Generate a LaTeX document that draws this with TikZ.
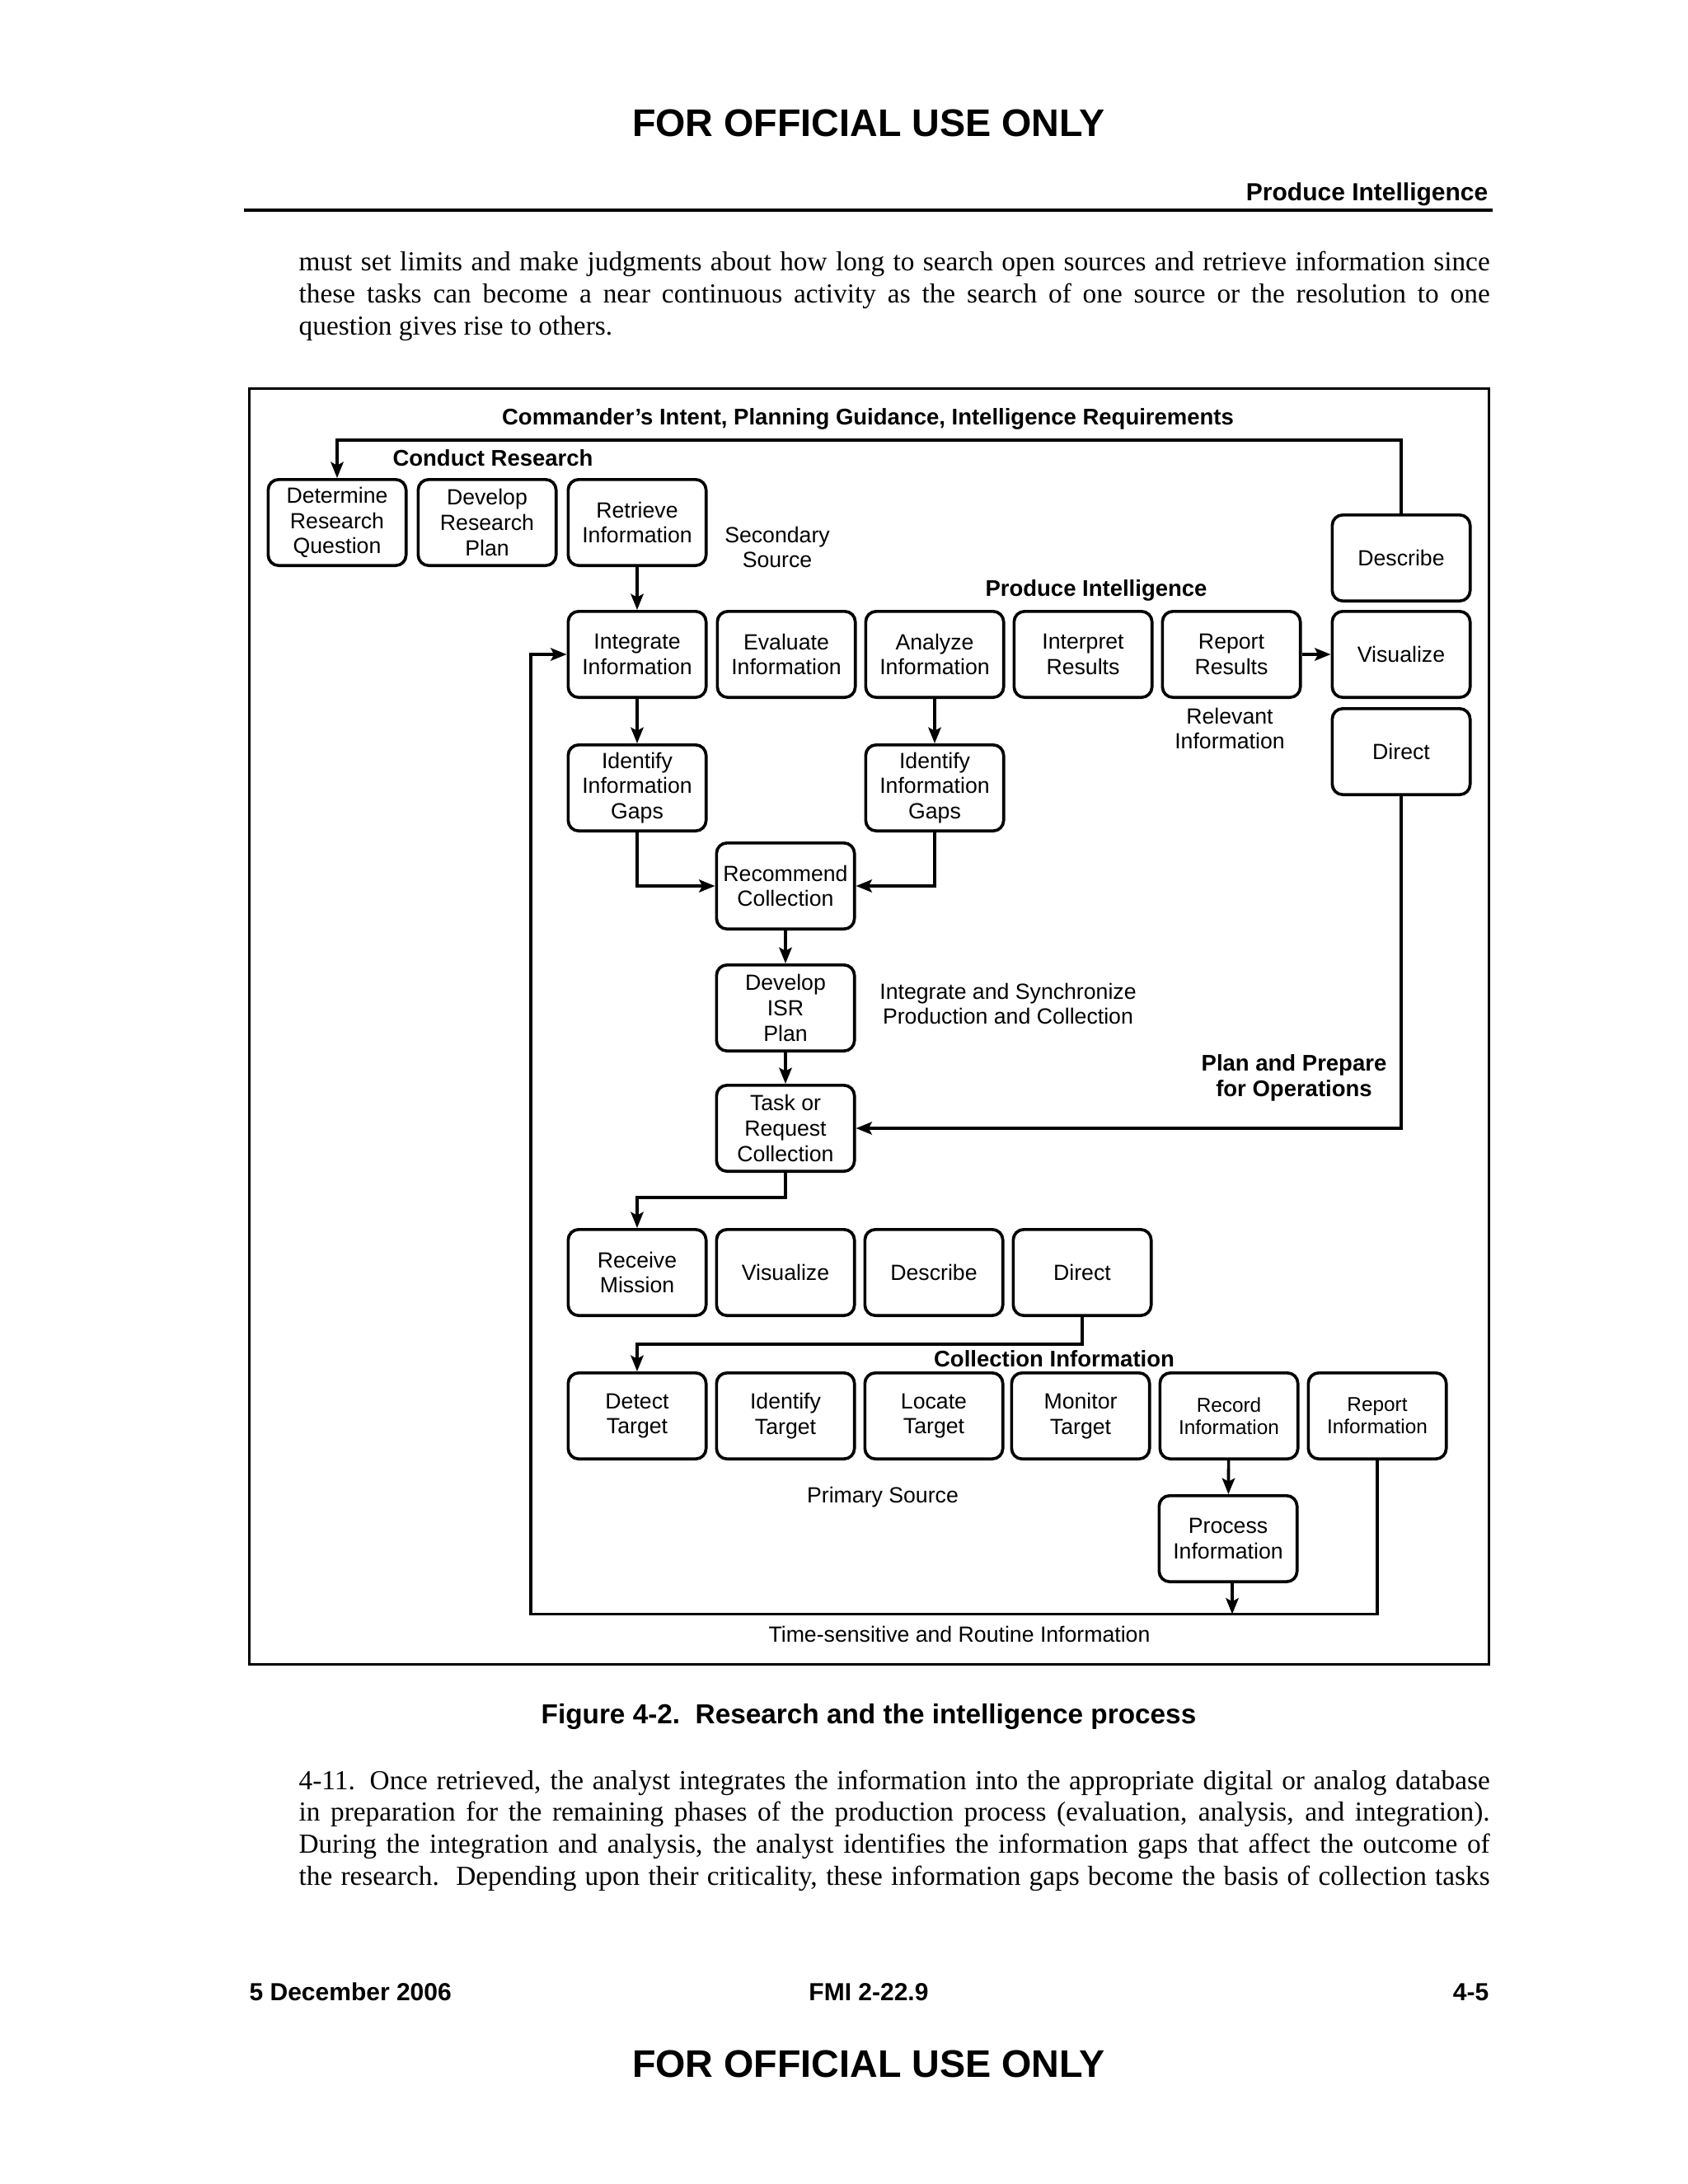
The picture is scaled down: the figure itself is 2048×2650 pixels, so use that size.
\documentclass[tikz,border=0pt]{standalone}
\usepackage{fontspec}
\setmainfont{Liberation Serif}
\newfontfamily\arial{Liberation Sans}
\usetikzlibrary{arrows.meta}
\begin{document}
\begin{tikzpicture}[x=0.3pt,y=-0.3pt,
  box/.style={draw, line width=1.1pt, rounded corners=3.8pt, minimum width=50.2pt, minimum height=31.3pt, inner sep=0pt, align=center, font=\arial\fontsize{8}{9.2}\selectfont},
  smallbox/.style={box, font=\arial\fontsize{7.3}{8.2}\selectfont},
  lbl/.style={inner sep=0pt, align=center, font=\arial\fontsize{8}{9.2}\selectfont},
  blbl/.style={inner sep=0pt, align=center, font=\arial\bfseries\fontsize{8.25}{9.4}\selectfont},
  arr/.style={line width=1.1pt, -{Stealth[length=5.8pt,width=4.6pt,inset=1.2pt]}},
  ln/.style={line width=1.1pt},
  body/.style={anchor=base west, inner sep=0pt, font=\fontsize{10}{11.7}\selectfont},
  hdr/.style={inner sep=0pt, font=\arial\bfseries\fontsize{9}{11}\selectfont},
  fouo/.style={anchor=base, inner sep=0pt, font=\arial\bfseries\fontsize{14}{16}\selectfont},
]
\useasboundingbox[fill=white] (0,0) rectangle (2048,2650);

% page header
\node[fouo] (fouoTop) at (1054,165) {FOR OFFICIAL USE ONLY};
\node[hdr, anchor=base east] (hdrR) at (1806,243) {Produce Intelligence};
\draw[line width=1.1pt] (296,255) -- (1811,255);

% paragraph 1
\node[body] (p1a) at (362,328) {\makebox[433.5pt][s]{must set limits and make judgments about how long to search open sources and retrieve information since}};
\node[body] (p1b) at (362,367) {\makebox[433.5pt][s]{these tasks can become a near continuous activity as the search of one source or the resolution to one}};
\node[body] (p1c) at (362,406) {question gives rise to others.};

% frame
\draw[line width=0.9pt] (302.5,471.5) rectangle (1806,2019);

% labels
\node[blbl] (lcmd) at (1053,508) {Commander’s Intent, Planning Guidance, Intelligence Requirements};
\node[blbl] (lcr) at (598,556) {Conduct Research};
\node[lbl] (lsec) at (943,664) {Secondary\\Source};
\node[blbl] (lpi) at (1330,716) {Produce Intelligence};
\node[lbl] (lrel) at (1492,884) {Relevant\\Information};
\node[lbl] (lisp) at (1223,1218) {Integrate and Synchronize\\Production and Collection};
\node[blbl] (lpp) at (1570,1308) {Plan and Prepare\\for Operations};
\node[blbl] (lci) at (1279,1649) {Collection Information};
\node[lbl] (lps) at (1071,1817) {Primary Source};
\node[lbl] (lts) at (1164,1983) {Time-sensitive and Routine Information};

% row 1
\node[box] (det) at (409,634) {Determine\\Research\\Question};
\node[box] (dev) at (591,634) {Develop\\Research\\Plan};
\node[box] (ret) at (773,634) {Retrieve\\Information};

% produce row
\node[box] (int) at (773,794) {Integrate\\Information};
\node[box] (eva) at (954,794) {Evaluate\\Information};
\node[box] (ana) at (1134,794) {Analyze\\Information};
\node[box] (inr) at (1314,794) {Interpret\\Results};
\node[box] (rep) at (1494,794) {Report\\Results};

% right column
\node[box] (descR) at (1700,677) {Describe};
\node[box] (visR) at (1700,794) {Visualize};
\node[box] (dirR) at (1700,912) {Direct};

% gaps
\node[box] (gap1) at (773,956) {Identify\\Information\\Gaps};
\node[box] (gap2) at (1134,956) {Identify\\Information\\Gaps};
\node[box] (rcm) at (953,1075) {Recommend\\Collection};
\node[box] (isr) at (953,1223) {Develop\\ISR\\Plan};
\node[box] (task) at (953,1369) {Task or\\Request\\Collection};

% operations row
\node[box] (recv) at (773,1544) {Receive\\Mission};
\node[box] (vis2) at (953,1544) {Visualize};
\node[box] (desc2) at (1133,1544) {Describe};
\node[box] (dir2) at (1313,1544) {Direct};

% collection row
\node[box] (dett) at (773,1718) {Detect\\Target};
\node[box] (idt) at (953,1718) {Identify\\Target};
\node[box] (loc) at (1133,1718) {Locate\\Target};
\node[box] (mon) at (1311,1718) {Monitor\\Target};
\node[smallbox] (rcd) at (1491,1718) {Record\\Information};
\node[smallbox] (rpi) at (1671,1718) {Report\\Information};
\node[box] (proc) at (1490,1867) {Process\\Information};

% coordinates for connector bends
\coordinate (ytop) at (0,534);
\coordinate (ytask) at (0,1453);
\coordinate (ydir) at (0,1631);
\coordinate (ybot) at (0,1958.5);
\coordinate (xleft) at (644,0);
\coordinate (pout) at (1495,1921);

% connectors
\draw[arr] (descR.north) -- (descR.north |- ytop) -| (det.north);
\draw[arr] (ret) -- (int);
\draw[arr] (rep) -- (visR);
\draw[arr] (int) -- (gap1);
\draw[arr] (ana) -- (gap2);
\draw[arr] (gap1.south) |- (rcm.west);
\draw[arr] (gap2.south) |- (rcm.east);
\draw[arr] (rcm) -- (isr);
\draw[arr] (isr) -- (task);
\draw[arr] (dirR.south) |- (task.east);
\draw[arr] (task.south) -- (task.south |- ytask) -| (recv.north);
\draw[arr] (dir2.south) -- (dir2.south |- ydir) -| (dett.north);
\draw[arr] (rcd) -- (proc);
\draw[arr] (pout) -- (pout |- ybot);
\draw[arr] (rpi.south) -- (rpi.south |- ybot) -- (xleft |- ybot) |- (int.west);

% caption
\node[anchor=base, inner sep=0pt, font=\arial\bfseries\fontsize{10}{12}\selectfont] (cap) at (1054,2091) {Figure 4-2.\ \ Research and the intelligence process};

% paragraph 2
\node[body] (p2a) at (362,2171) {\makebox[433.5pt][s]{4-11. Once retrieved, the analyst integrates the information into the appropriate digital or analog database}};
\node[body] (p2b) at (362,2209.5) {\makebox[433.5pt][s]{in preparation for the remaining phases of the production process (evaluation, analysis, and integration).}};
\node[body] (p2c) at (362,2248.5) {\makebox[433.5pt][s]{During the integration and analysis, the analyst identifies the information gaps that affect the outcome of}};
\node[body] (p2d) at (362,2287) {\makebox[433.5pt][s]{the research.\ \ Depending upon their criticality, these information gaps become the basis of collection tasks}};

% footer
\node[hdr, anchor=base west] (fdate) at (302,2427) {5 December 2006};
\node[hdr, anchor=base] (fmi) at (1054,2427) {FMI 2-22.9};
\node[hdr, anchor=base east] (fpg) at (1807,2427) {4-5};
\node[fouo] (fouoBot) at (1054,2520) {FOR OFFICIAL USE ONLY};
\end{tikzpicture}
\end{document}
